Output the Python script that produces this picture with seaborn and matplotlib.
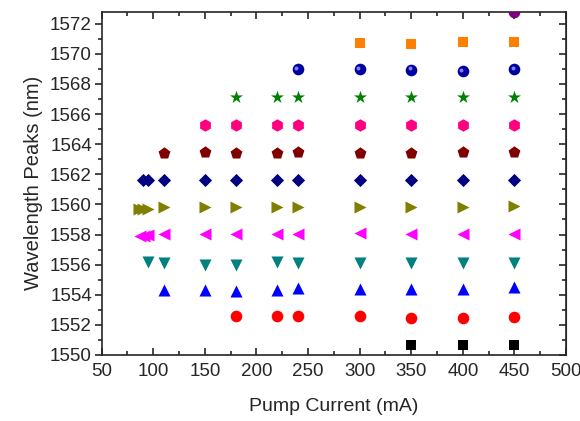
import numpy as np
import pandas as pd
import matplotlib
matplotlib.use("Agg")
import matplotlib.pyplot as plt
import seaborn as sns
from matplotlib.ticker import MultipleLocator

# =========================
# Data
# =========================
x_black = [350, 400, 450]
y_black = [1550.69, 1550.64, 1550.64]

x_red = [180, 220, 240, 300, 350, 400, 450]
y_red = [1552.56, 1552.56, 1552.56, 1552.57, 1552.45, 1552.45, 1552.55]

x_blue = [110, 150, 180, 220, 240, 300, 350, 400, 450]
y_blue = [1554.33, 1554.33, 1554.27, 1554.33, 1554.42, 1554.40, 1554.40, 1554.38, 1554.49]

x_teal = [95, 110, 150, 180, 220, 240, 300, 350, 400, 450]
y_teal = [1556.20, 1556.11, 1556.00, 1556.00, 1556.16, 1556.11, 1556.11, 1556.11, 1556.11, 1556.11]

x_magenta = [87, 91, 95, 110, 150, 180, 220, 240, 300, 350, 400, 450]
y_magenta = [1557.93, 1557.93, 1557.98, 1558.04, 1558.04, 1558.04, 1558.04, 1558.04, 1558.09, 1558.04, 1558.04, 1558.04]

x_olive = [86, 90, 95, 110, 150, 180, 220, 240, 300, 350, 400, 450]
y_olive = [1559.71, 1559.71, 1559.71, 1559.84, 1559.84, 1559.84, 1559.84, 1559.84, 1559.86, 1559.82, 1559.86, 1559.88]

x_navy = [90, 95, 110, 150, 180, 220, 240, 300, 350, 400, 450]
y_navy = [1561.60, 1561.60, 1561.60, 1561.65, 1561.65, 1561.65, 1561.60, 1561.65, 1561.60, 1561.65, 1561.60]

x_wine = [110, 150, 180, 220, 240, 300, 350, 400, 450]
y_wine = [1563.40, 1563.49, 1563.40, 1563.40, 1563.49, 1563.40, 1563.40, 1563.50, 1563.49]

x_pink = [150, 180, 220, 240, 300, 350, 400, 450]
y_pink = [1565.30, 1565.30, 1565.30, 1565.30, 1565.30, 1565.30, 1565.30, 1565.30]

x_green = [180, 220, 240, 300, 350, 400, 450]
y_green = [1567.14, 1567.14, 1567.14, 1567.12, 1567.14, 1567.16, 1567.14]

x_royal = [240, 300, 350, 400, 450]
y_royal = [1568.99, 1568.99, 1568.95, 1568.86, 1568.99]

x_orange = [300, 350, 400, 450]
y_orange = [1570.73, 1570.66, 1570.77, 1570.79]

x_purple = [450]
y_purple = [1572.8]

series = [
    ("black", x_black, y_black, "#000000", "s", 55),
    ("red", x_red, y_red, "#FF0000", "o", 70),
    ("blue", x_blue, y_blue, "#0000FF", "^", 75),
    ("teal", x_teal, y_teal, "#008080", "v", 75),
    ("magenta", x_magenta, y_magenta, "#FF00FF", "<", 75),
    ("olive", x_olive, y_olive, "#808000", ">", 75),
    ("navy", x_navy, y_navy, "#000080", "D", 45),
    ("wine", x_wine, y_wine, "#800000", "p", 80),
    ("pink", x_pink, y_pink, "#FF0080", "h", 80),
    ("green", x_green, y_green, "#008000", "*", 95),
    ("royal", x_royal, y_royal, "#0000A0", "o", 70),
    ("orange", x_orange, y_orange, "#FF8000", "s", 55),
    ("purple", x_purple, y_purple, "#800080", "o", 70),
]

# =========================
# Plot
# =========================
sns.set_style("ticks")
plt.rcParams['font.family'] = ['Liberation Sans', 'DejaVu Sans']

fig = plt.figure(figsize=(5.8, 4.21), dpi=100)
ax = fig.add_axes([0.1753, 0.1568, 0.8006, 0.8154])

for name, xs, ys, color, marker, size in series:
    df = pd.DataFrame({'current': xs, 'peak': ys})
    sns.scatterplot(data=df, x='current', y='peak', color=color, marker=marker,
                    s=size, linewidth=0, ax=ax, legend=False, zorder=3)

# highlight on the sphere markers
df_sph = pd.DataFrame({'current': x_royal, 'peak': y_royal})
ax.scatter(df_sph['current'] - 1.3, df_sph['peak'] + 0.08, s=8, color='#8080FF',
           linewidth=0, zorder=4)

ax.set_xlim(50, 500)
ax.set_ylim(1550, 1572.8)
ax.xaxis.set_major_locator(MultipleLocator(50))
ax.xaxis.set_minor_locator(MultipleLocator(25))
ax.yaxis.set_major_locator(MultipleLocator(2))
ax.yaxis.set_minor_locator(MultipleLocator(1))

ax.tick_params(axis='x', which='both', direction='in', top=True, bottom=True,
               labelsize=13.5, pad=6)
ax.tick_params(axis='y', which='both', direction='out', left=True, labelsize=13.5, pad=2)
ax.tick_params(which='major', length=5, width=1.2)
ax.tick_params(which='minor', length=3, width=1.2)

# right axis ticks point inward
ax_r = ax.secondary_yaxis('right')
ax_r.yaxis.set_major_locator(MultipleLocator(2))
ax_r.yaxis.set_minor_locator(MultipleLocator(1))
ax_r.tick_params(which='both', direction='in', labelright=False, width=1.2)
ax_r.tick_params(which='major', length=5)
ax_r.tick_params(which='minor', length=3)

for sp in ax.spines.values():
    sp.set_visible(True)
    sp.set_linewidth(1.2)

ax.set_xlabel('Pump Current (mA)', fontsize=14, labelpad=13)
ax.set_ylabel('Wavelength Peaks (nm)', fontsize=14.5, labelpad=5)

plt.savefig('out.png', dpi=100)
plt.close()
